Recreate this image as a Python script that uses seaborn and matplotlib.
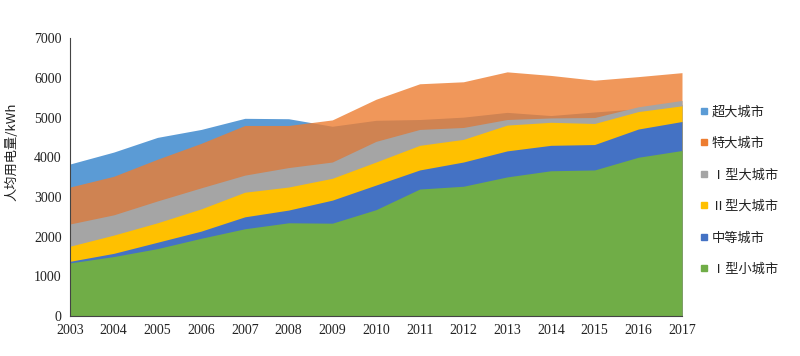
import numpy as np
import pandas as pd
import matplotlib
matplotlib.use('Agg')
from matplotlib import pyplot as plt
from matplotlib.lines import Line2D
import seaborn as sns

years = list(range(2003, 2018))
labels = ["超大城市", "特大城市", "Ⅰ型大城市", "Ⅱ型大城市", "中等城市", "Ⅰ型小城市"]
colors = ["#5B9BD5", "#ED7D31", "#A5A5A5", "#FFC000", "#4472C4", "#70AD47"]

# values, kWh per person
chaoda = [3830, 4130, 4500, 4700, 4980, 4970, 4780, 4930, 4950, 5010, 5130, 5050, 5140, 5220, 5330]
teda = [3250, 3520, 3950, 4350, 4800, 4800, 4940, 5460, 5850, 5900, 6150, 6060, 5940, 6030, 6130]
da1 = [2320, 2550, 2900, 3230, 3550, 3740, 3880, 4400, 4700, 4750, 4950, 4990, 5000, 5270, 5430]
da2 = [1760, 2040, 2350, 2700, 3120, 3250, 3470, 3880, 4300, 4450, 4810, 4880, 4850, 5150, 5295]
zhongdeng = [1380, 1580, 1860, 2140, 2500, 2670, 2920, 3300, 3680, 3880, 4160, 4300, 4320, 4710, 4900]
xiao1 = [1340, 1500, 1700, 1960, 2200, 2350, 2340, 2680, 3200, 3270, 3505, 3660, 3680, 4000, 4170]

df = pd.DataFrame({"year": years, labels[0]: chaoda, labels[1]: teda, labels[2]: da1,
                   labels[3]: da2, labels[4]: zhongdeng, labels[5]: xiao1})

sns.set_style("white")
plt.rcParams['font.family'] = ['Liberation Serif', 'Noto Sans CJK SC', 'DejaVu Sans']

fig = plt.figure(figsize=(8, 3.56), dpi=100)
ax = fig.add_axes([0.0875, 0.112, 0.765, 0.781])

for lab, col in zip(labels, colors):
    a = 0.8 if lab == "特大城市" else 1.0
    ax.fill_between(df["year"], 0, df[lab], color=col, alpha=a, linewidth=0)

ax.set_xlim(2003, 2017)
ax.set_ylim(0, 7000)
ax.set_xticks(years)
ax.set_yticks(range(0, 7001, 1000))
ax.tick_params(axis='both', direction='in', length=3, labelsize=10, colors='#222222')
ax.tick_params(axis='x', pad=6)
ax.tick_params(axis='y', pad=6)
ax.set_axisbelow(False)
sns.despine(ax=ax)
for s in ["left", "bottom"]:
    ax.spines[s].set_color("#444444")
    ax.spines[s].set_zorder(5)

ax.set_ylabel("人均用电量/kWh", family=['Noto Sans CJK SC', 'DejaVu Sans'], fontsize=9.5, color='#222222')
ax.yaxis.set_label_coords(-0.085, 0.59)

handles = [Line2D([], [], marker='s', linestyle='none', markersize=5, color=c) for c in colors]
leg = ax.legend(handles, labels, loc='upper left', bbox_to_anchor=(1.01, 0.80), frameon=False,
                handlelength=0.6, handletextpad=0.3, labelspacing=1.4,
                prop={'family': ['Noto Sans CJK SC', 'DejaVu Sans'], 'size': 9.5})
for t in leg.get_texts():
    t.set_color('#222222')

plt.savefig('out.png', dpi=100)
